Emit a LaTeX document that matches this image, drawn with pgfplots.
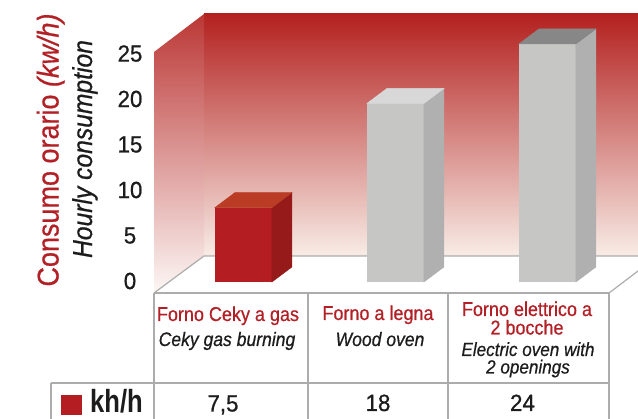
\documentclass[border=0pt]{standalone}
\usepackage{pgfplots}
\pgfplotsset{compat=1.18}
\usepackage{fontspec}
\setmainfont{Liberation Sans}
\newfontfamily\condf[FakeStretch=0.9,FakeBold=0.6]{Liberation Sans}
\newfontfamily\condk[FakeStretch=0.8]{Liberation Sans}
\newfontfamily\digf[FakeStretch=0.95,FakeBold=0.8]{Liberation Sans}

\definecolor{wallTop}{RGB}{179,33,31}
\definecolor{wallBot}{RGB}{248,236,230}
\definecolor{redFront}{RGB}{180,30,34}
\definecolor{redSide}{RGB}{150,26,26}
\definecolor{redTop}{RGB}{186,60,36}
\definecolor{grayFront}{RGB}{198,198,196}
\definecolor{graySide}{RGB}{176,176,176}
\definecolor{grayTopL}{RGB}{216,216,216}
\definecolor{grayTopD}{RGB}{136,135,135}
\definecolor{lineGray}{RGB}{172,172,172}
\definecolor{txtRed}{RGB}{178,32,38}
\definecolor{txtBlack}{RGB}{28,28,28}

\pgfdeclareplotmark{empty3d}{}

\pgfplotsset{
  front3d/.style={ybar, bar shift=0pt, bar width=57bp, fill=#1, draw=none},
  caps3d/.style 2 args={scatter, only marks, mark=empty3d, point meta=y,
    visualization depends on={\thisrow{y} \as \barval},
    scatter/@pre marker code/.code={%
      \pgfmathsetlengthmacro\hA{\barval*9.92bp}%
      \pgfmathsetlengthmacro\hB{\barval*9.92bp-15bp}%
      \begin{scope}
      \fill[#1] (28.5bp,0pt) -- (48.5bp,15bp) -- (48.5bp,-\hB) -- (28.5bp,-\hA) -- cycle;
      \fill[#2] (-28.5bp,0pt) -- (28.5bp,0pt) -- (48.5bp,15bp) -- (-8.5bp,15bp) -- cycle;
      \end{scope}
    },
    scatter/@post marker code/.code={}
  }
}

\pgfplotstableread{
x y
0 7.5
}\tabgas
\pgfplotstableread{
x y
1 18
}\tabwood
\pgfplotstableread{
x y
2 24
}\tabelec

\begin{document}
\begin{tikzpicture}
\path[use as bounding box] (0,0) rectangle (638bp,419bp);
\clip (0,0) rectangle (638bp,419bp);
\begin{scope}[x=1bp,y=-1bp,shift={(0,419bp)}]
  \shade[top color=wallTop, bottom color=wallBot] (204,14) rectangle (642,256);
  \shade[top color=wallTop!90!white, bottom color=wallBot!40!white] (154,52) -- (204,14) -- (204,256) -- (154,293) -- cycle;
  \draw[lineGray, line width=1.2bp] (154,293) -- (204,256) -- (642,256);
  \draw[lineGray, line width=1.2bp] (609,293) -- (642,268);
\end{scope}

\begin{axis}[
  at={(153bp,137bp)}, anchor=south west,
  x=152bp, y=9.92bp,
  xmin=-0.595, xmax=2.4, ymin=0, ymax=28,
  clip=false,
  axis line style={draw=none},
  major tick length=0pt,
  xtick=\empty,
  ytick={0.1,4.687,9.274,13.86,18.45,23.03},
  yticklabels={0,5,10,15,20,25},
  yticklabel style={anchor=center, xshift=-23bp, text=txtBlack,
    font=\digf\fontsize{23.4bp}{28bp}\selectfont},
]
\addplot[front3d=redFront] table[x=x,y=y] {\tabgas};
\addplot[caps3d={redSide}{redTop}] table[x=x,y=y] {\tabgas};
\addplot[front3d=grayFront] table[x=x,y=y] {\tabwood};
\addplot[caps3d={graySide}{grayTopL}] table[x=x,y=y] {\tabwood};
\addplot[front3d=grayFront] table[x=x,y=y] {\tabelec};
\addplot[caps3d={graySide}{grayTopD}] table[x=x,y=y] {\tabelec};
\end{axis}

\begin{scope}[x=1bp,y=-1bp,shift={(0,419bp)}]
  \node[rotate=90, anchor=base, inner sep=0, text=txtRed, font=\condf\fontsize{30bp}{36bp}\selectfont] at (58.5,150) {Consumo orario \textit{(kw/h)}};
  \node[rotate=90, anchor=base, inner sep=0, text=txtBlack, font=\condf\itshape\fontsize{27.4bp}{32bp}\selectfont] at (92,149) {Hourly consumption};
  \draw[lineGray, line width=1.2bp] (154,293) -- (609,293);
  \draw[lineGray, line width=1.2bp] (154,293) -- (154,422);
  \draw[lineGray, line width=1.2bp] (308,293) -- (308,422);
  \draw[lineGray, line width=1.2bp] (448,293) -- (448,422);
  \draw[lineGray, line width=1.2bp] (609,293) -- (609,422);
  \draw[lineGray, line width=1.2bp] (51,383) -- (609,383);
  \draw[lineGray, line width=1.2bp] (51,383) -- (51,422);
  \tikzset{rl/.style={anchor=base, inner sep=0, text=txtRed, font=\condf\fontsize{20bp}{24bp}\selectfont},
           il/.style={anchor=base, inner sep=0, text=txtBlack, font=\condf\itshape\fontsize{19.5bp}{24bp}\selectfont}}
  \node[rl] at (228,321) {Forno Ceky a gas};
  \node[il] at (227,346) {Ceky gas burning};
  \node[rl] at (378,320) {Forno a legna};
  \node[il] at (380,346) {Wood oven};
  \node[rl, align=center, font=\condf\fontsize{20bp}{18.5bp}\selectfont] at (527,334.5) {Forno elettrico a\\2 bocche};
  \node[il, align=center, font=\condf\itshape\fontsize{19bp}{17.5bp}\selectfont] at (528,373.5) {Electric oven with\\2 openings};
  \fill[redFront] (61,395) rectangle (82,415);
  \node[anchor=base west, inner sep=0, text=txtBlack, font=\condk\bfseries\fontsize{32bp}{36bp}\selectfont] at (90,413) {kh/h};
  \tikzset{vl/.style={anchor=base, inner sep=0, text=txtBlack, font=\digf\fontsize{23.5bp}{28bp}\selectfont}}
  \node[vl] at (223,411.5) {7,5};
  \node[vl] at (378,411) {18};
  \node[vl] at (522.5,411) {24};
\end{scope}
\end{tikzpicture}
\end{document}
